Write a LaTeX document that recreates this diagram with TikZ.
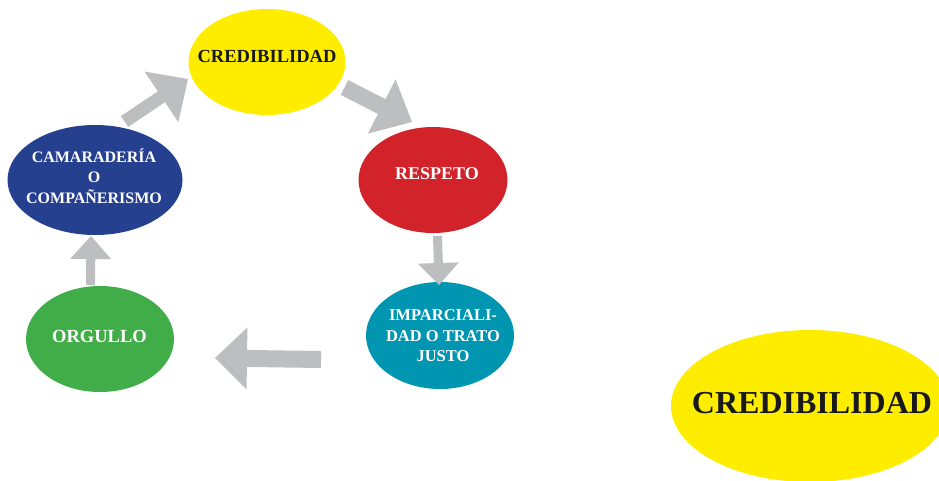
\documentclass[tikz,border=0pt]{standalone}
\usepackage{fontspec}
\setmainfont{Liberation Serif}
\usetikzlibrary{shapes.geometric,calc}

\definecolor{credyellow}{HTML}{FFED00}
\definecolor{camblue}{HTML}{25408F}
\definecolor{respred}{HTML}{D2232A}
\definecolor{impteal}{HTML}{0095B0}
\definecolor{orggreen}{HTML}{41AD49}
\definecolor{arrowgray}{HTML}{BCBEC0}

% Block arrow: #1 tail, #2 tip, #3 shaft half-width, #4 head half-width, #5 head length
\newcommand\blockarrow[5]{%
  \coordinate (ab) at ($(#2)!#5!(#1)$);
  \fill[arrowgray]
    ($(#1)!#3!90:(#2)$) -- ($(ab)!#3!90:(#2)$) -- ($(ab)!#4!90:(#2)$) -- (#2)
    -- ($(ab)!#4!-90:(#2)$) -- ($(ab)!#3!-90:(#2)$) -- ($(#1)!#3!-90:(#2)$) -- cycle;
}

\begin{document}
\begin{tikzpicture}[x=1pt,y=-1pt,
  bubble/.style={ellipse, draw=none, inner sep=0pt},
  lbl/.style={align=center, font=\bfseries\fontsize{#1}{20.5}\selectfont, text=white},
  lbl/.default=16]
\useasboundingbox (0,0) rectangle (939,480);

% circle of values
\node[bubble, fill=credyellow, minimum width=157pt, minimum height=106pt] (cred) at (267,62) {};
\node[bubble, fill=respred,    minimum width=149pt, minimum height=106pt] (resp) at (433,180) {};
\node[bubble, fill=impteal,    minimum width=148pt, minimum height=107pt] (imp)  at (440,335.5) {};
\node[bubble, fill=orggreen,   minimum width=148pt, minimum height=106pt] (org)  at (100,339) {};
\node[bubble, fill=camblue,    minimum width=175pt, minimum height=110pt] (cam)  at (95,180) {};

\node[lbl=18.5, text=black!90] (credt) at (267,56) {CREDIBILIDAD};
\node[lbl=18] (respt) at (437,173.5) {RESPETO};
\node[lbl=16.5] (impt) at (443,336) {IMPARCIALI-\\DAD O TRATO\\JUSTO};
\node[lbl=18.5] (orgt) at (99.5,336.5) {ORGULLO};
\node[lbl=16] (camt) at (94,176) {CAMARADERÍA\\O\\COMPAÑERISMO};

% connecting block arrows
\coordinate (s1) at (124.5,121.5); \coordinate (e1) at (188,79);
\coordinate (s2) at (344.5,87.5);  \coordinate (e2) at (412,122);
\coordinate (s3) at (437.5,236);   \coordinate (e3) at (439,285);
\coordinate (s4) at (321,359.5);   \coordinate (e4) at (215,358);
\coordinate (s5) at (90.5,285);    \coordinate (e5) at (91,236);
\blockarrow{s1}{e1}{6.5pt}{30.4pt}{32pt}
\blockarrow{s2}{e2}{8.3pt}{30.4pt}{34pt}
\blockarrow{s3}{e3}{4.5pt}{20.5pt}{22pt}
\blockarrow{s4}{e4}{8.5pt}{31pt}{32pt}
\blockarrow{s5}{e5}{4.5pt}{20.5pt}{23pt}

% large highlight
\begin{scope}
  \clip (0,0) rectangle (939,480);
  \node[bubble, fill=credyellow, minimum width=278pt, minimum height=152pt] (big) at (810,406) {};
  \node[font=\bfseries\fontsize{32}{36}\selectfont, text=black!90] (bigt) at (812,403) {CREDIBILIDAD};
\end{scope}
\end{tikzpicture}
\end{document}
